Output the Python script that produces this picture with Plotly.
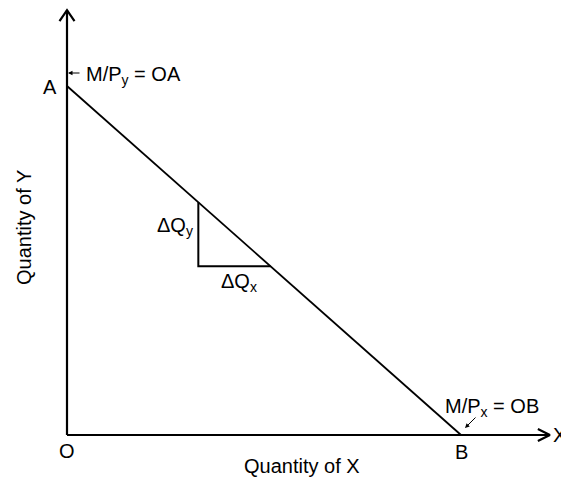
import plotly.graph_objects as go

# ---- data ----
OA = 8.0          # M/Py intercept on Y axis
OB = 9.0          # M/Px intercept on X axis
tri_x = [3.0, 4.65]   # x-positions of the slope triangle (start, end)
y_axis_top = 9.74
x_axis_end = 11.03
point_labels = ["O", "A", "B"]
axis_titles = ["Quantity of X", "Quantity of Y"]

W, H = 561, 478
sx = 394 / OB     # px per x unit
sy = 349 / OA     # px per y unit
x_range = [-67 / sx, (W - 67) / sx]
y_range = [-(H - 435) / sy, 435 / sy]

def line_y(x):
    return OA * (1 - x / OB)

FONT = "Arial, Liberation Sans, sans-serif"
FS = 20
BLACK = "#000000"

fig = go.Figure()

def add_line(xs, ys, width):
    fig.add_trace(go.Scatter(x=xs, y=ys, mode="lines",
                             line=dict(color=BLACK, width=width),
                             hoverinfo="skip", showlegend=False))

# axes
add_line([0, 0], [0, y_axis_top], 2.2)
add_line([0, x_axis_end], [0, 0], 2.2)
# arrowheads (open chevrons)
add_line([-7.5 / sx, 0, 7.5 / sx],
         [y_axis_top - 11 / sy, y_axis_top, y_axis_top - 11 / sy], 2.2)
add_line([x_axis_end - 12 / sx, x_axis_end, x_axis_end - 12 / sx],
         [6 / sy, 0, -6 / sy], 2.2)

# budget line
add_line([0, OB], [OA, 0], 1.8)

# slope triangle
x1, x2 = tri_x
add_line([x1, x1, x2], [line_y(x1), line_y(x2), line_y(x2)], 2.0)

ann = []
def text(x, y, t, size=FS, xanchor="center", yanchor="middle", xshift=0, yshift=0,
         xref="x", yref="y", angle=0):
    ann.append(dict(x=x, y=y, text=t, xref=xref, yref=yref, showarrow=False,
                    xanchor=xanchor, yanchor=yanchor, xshift=xshift, yshift=yshift,
                    textangle=angle, font=dict(family=FONT, size=size, color=BLACK)))

text(0, 0, point_labels[0], yshift=-16)
text(0, OA, point_labels[1], xanchor="right", xshift=-8, yshift=-1)
text(OB, 0, point_labels[2], yshift=-17)
text(x_axis_end, 0, "X", xanchor="left", xshift=1)

text(302 / W, 1 - 466 / H, axis_titles[0], xref="paper", yref="paper")
text(24 / W, 1 - 228 / H, axis_titles[1], xref="paper", yref="paper", angle=-90)

text(0, OA, "M/P<sub>y</sub> = OA", xanchor="left", xshift=17, yshift=11)
text(OB, 0, "M/P<sub>x</sub> = OB", xanchor="left", xshift=-18, yshift=28)

text(x1, line_y(x1), "ΔQ<sub>y</sub>", xanchor="right", xshift=-3, yshift=-24)
text(x1, line_y(x2), "ΔQ<sub>x</sub>", xanchor="left", xshift=21, yshift=-16)

# small pointer arrows
ann.append(dict(x=0, y=OA, ax=13, ay=0, xref="x", yref="y",
                xshift=1, yshift=13, showarrow=True, arrowhead=2,
                arrowsize=0.9, arrowwidth=1, arrowcolor=BLACK, text=""))
ann.append(dict(x=OB, y=0, ax=12, ay=-12, xref="x", yref="y",
                xshift=4, yshift=7, showarrow=True, arrowhead=2,
                arrowsize=0.9, arrowwidth=1, arrowcolor=BLACK, text=""))

fig.update_layout(
    width=W, height=H, autosize=False,
    margin=dict(l=0, r=0, t=0, b=0, pad=0),
    paper_bgcolor="white", plot_bgcolor="white",
    xaxis=dict(range=x_range, visible=False, fixedrange=True),
    yaxis=dict(range=y_range, visible=False, fixedrange=True),
    annotations=ann,
    showlegend=False,
)

fig.write_html("out.html", config={"displayModeBar": False, "staticPlot": True},
               post_script="document.body.style.margin='0';document.body.style.overflow='hidden';")
